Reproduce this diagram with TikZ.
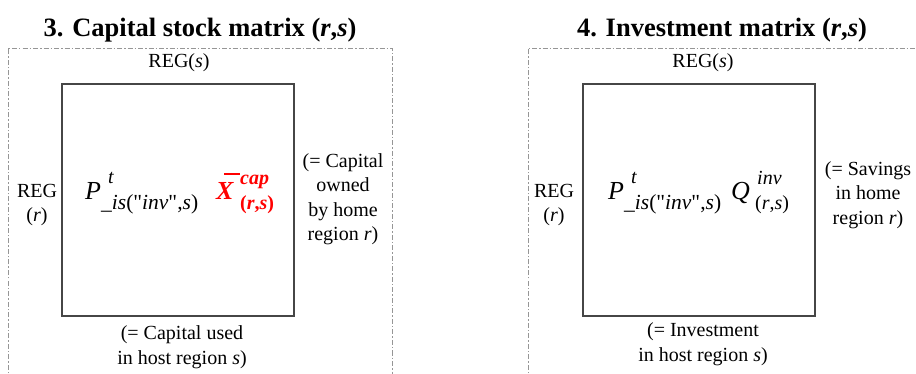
\documentclass[tikz,border=0pt]{standalone}
\usepackage{fontspec}
\setmainfont{LiberationSerif}[Extension=.ttf, UprightFont=*-Regular, BoldFont=*-Bold, ItalicFont=*-Italic, BoldItalicFont=*-BoldItalic, Ligatures=TeXOff]
\definecolor{dashgray}{RGB}{150,150,150}
\definecolor{boxgray}{RGB}{70,70,70}
\definecolor{pured}{RGB}{255,0,0}
\newcommand{\sq}{\char"22\relax}
\tikzset{
  panel/.style={draw=dashgray, line width=0.9pt, dash pattern=on 5pt off 2pt on 1.5pt off 2pt},
  matbox/.style={draw=boxgray, line width=1.3pt},
  lbl/.style={inner sep=0pt, align=center, font=\fontsize{20}{24.5}\selectfont},
  ttl/.style={inner sep=0pt, font=\fontsize{26.5}{30}\selectfont\bfseries},
  big/.style={inner sep=0pt, anchor=base west, font=\fontsize{26}{30}\selectfont\itshape},
  scr/.style={inner sep=0pt, anchor=base west, font=\fontsize{20}{24}\selectfont},
  sub/.style={inner sep=0pt, anchor=base west, font=\fontsize{21.5}{24}\selectfont}
}
\begin{document}
\begin{tikzpicture}[x=1pt,y=-1pt]
\useasboundingbox (0,0) rectangle (916,374);
% panel frames
\draw[panel] (8,380) -- (8,48) -- (392,48) -- (392,380);
\draw[panel] (528,380) -- (528,48) -- (930,48);
% titles
\node[ttl] (t3) at (200,30) {3. Capital stock matrix (\textit{r},\textit{s})};
\node[ttl] (t4) at (722,30) {4. Investment matrix (\textit{r},\textit{s})};
% matrix boxes
\draw[matbox] (62,84) rectangle (294,316);
\draw[matbox] (583,84) rectangle (815,316);
% left panel labels
\node[lbl] (s3) at (179,63) {REG(\textit{s})};
\node[lbl] (r3) at (37,205) {REG\\(\textit{r})};
\node[lbl] (own) at (343,199) {(= Capital\\owned\\by home\\region \textit{r})};
\node[lbl] (use) at (182,347) {(= Capital used\\in host region \textit{s})};
% left formula
\node[big] (p3) at (85,200) {P};
\node[scr] (p3t) at (108,184) {\textit{t}};
\node[sub] (p3s) at (101,210) {\textit{\_is}(\sq\textit{inv}\sq,\textit{s})};
\node[big, text=pured, font=\fontsize{26}{30}\selectfont\bfseries\itshape] (x3) at (216,200) {X};
\draw[pured, line width=2pt] ([shift={(8,-26)}]x3.base west) -- ++(16,0);
\node[scr, text=pured, font=\fontsize{20}{24}\selectfont\bfseries\itshape] (x3c) at (240,185) {cap};
\node[scr, text=pured, font=\fontsize{20}{24}\selectfont\bfseries] (x3s) at (240,210) {(\textit{r},\textit{s})};
% right panel labels
\node[lbl] (s4) at (703,63) {REG(\textit{s})};
\node[lbl] (r4) at (554,205) {REG\\(\textit{r})};
\node[lbl] (sav) at (868,195) {(= Savings\\in home\\region \textit{r})};
\node[lbl] (inv) at (703,344) {(= Investment\\in host region \textit{s})};
% right formula
\node[big] (p4) at (608,200) {P};
\node[scr] (p4t) at (631,184) {\textit{t}};
\node[sub] (p4s) at (624,210) {\textit{\_is}(\sq\textit{inv}\sq,\textit{s})};
\node[big] (q4) at (731,200) {Q};
\node[scr] (q4i) at (757,185) {\textit{inv}};
\node[scr] (q4s) at (755,210) {(\textit{r},\textit{s})};
\end{tikzpicture}
\end{document}
